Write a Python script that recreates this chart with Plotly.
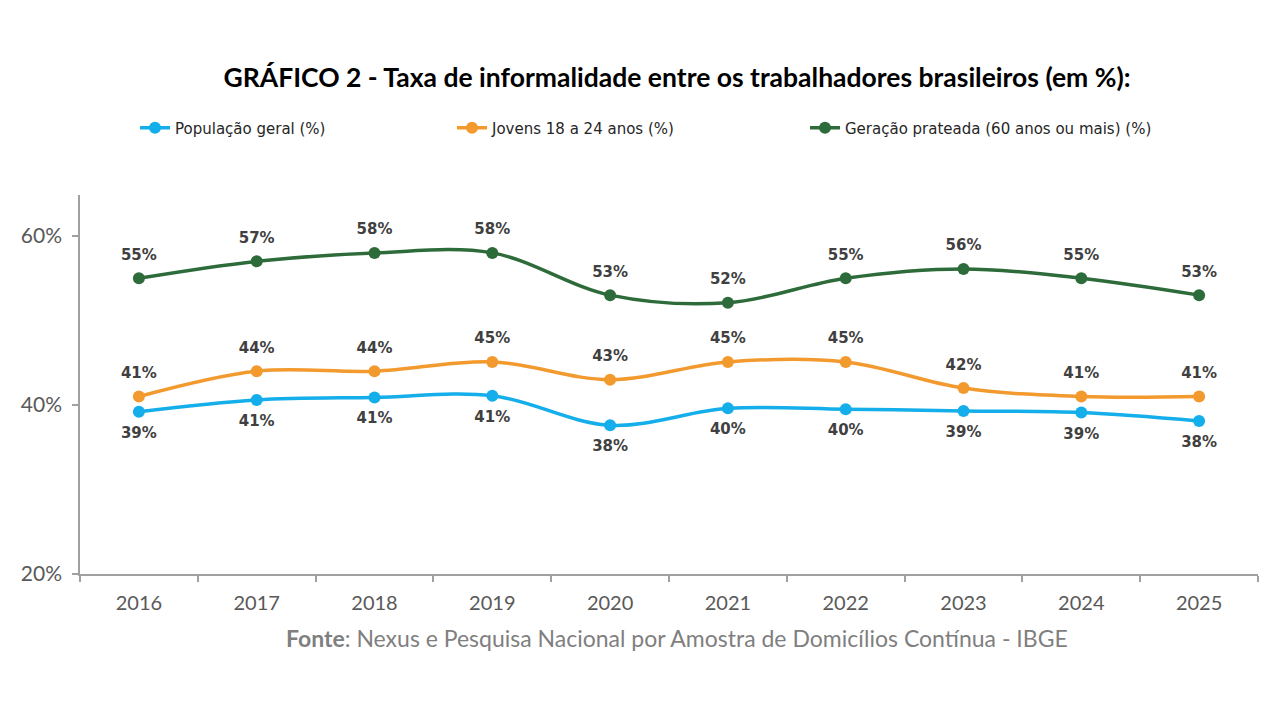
import plotly.graph_objects as go

years = ["2016", "2017", "2018", "2019", "2020", "2021", "2022", "2023", "2024", "2025"]
pop_geral = [39.2, 40.6, 40.9, 41.1, 37.6, 39.6, 39.5, 39.3, 39.1, 38.1]
jovens = [41.0, 44.0, 44.0, 45.1, 43.0, 45.1, 45.1, 42.0, 41.0, 41.0]
prateada = [55.0, 57.0, 58.0, 58.0, 53.0, 52.1, 55.0, 56.1, 55.0, 53.0]

series_names = ["População geral (%)", "Jovens 18 a 24 anos (%)", "Geração prateada (60 anos ou mais) (%)"]
colors = ["#14AEEA", "#F39A2E", "#2E6B3B"]
y_ticks = [20, 40, 60]
y_tick_text = ["20%", "40%", "60%"]

title_text = "GRÁFICO 2 - Taxa de informalidade entre os trabalhadores brasileiros (em %):"
source_text = "<b>Fonte</b>: Nexus e Pesquisa Nacional por Amostra de Domicílios Contínua - IBGE"

fig = go.Figure()
data = [pop_geral, jovens, prateada]
text_pos = ["bottom center", "top center", "top center"]
legends = ["legend", "legend2", "legend3"]
for vals, name, col, tp, lg in zip(data, series_names, colors, text_pos, legends):
    fig.add_trace(go.Scatter(
        x=years, y=vals, name=name, mode="lines+markers",
        line=dict(color=col, width=3.5, shape="spline", smoothing=1.0),
        marker=dict(color=col, size=12),
        cliponaxis=False,
        legend=lg,
    ))
    # data labels (invisible larger markers push labels away from the points)
    fig.add_trace(go.Scatter(
        x=years, y=vals, mode="markers+text", showlegend=False, hoverinfo="skip",
        marker=dict(color="rgba(0,0,0,0)", size=22),
        text=[f"{round(v)}%" for v in vals],
        textposition=tp,
        textfont=dict(family="DejaVu Sans", size=15, color="#404040", weight="bold"),
        cliponaxis=False,
    ))

leg_y = 1 + (195 - 128) / 379
leg_common = dict(orientation="h", yanchor="middle", xanchor="left",
                  font=dict(family="DejaVu Sans", size=15, color="#262626"),
                  bgcolor="rgba(0,0,0,0)", itemwidth=30, tracegroupgap=0)
fig.update_layout(
    width=1280, height=720,
    paper_bgcolor="white", plot_bgcolor="white",
    margin=dict(l=80, r=22, t=195, b=146),
    showlegend=True,
    legend=dict(x=(135 - 80) / 1178, y=leg_y, **leg_common),
    legend2=dict(x=(452 - 80) / 1178, y=leg_y, **leg_common),
    legend3=dict(x=(805 - 80) / 1178, y=leg_y, **leg_common),
    title=dict(text="<b>" + title_text + "</b>", x=677 / 1280, xanchor="center",
               y=1 - 78 / 720, yanchor="middle",
               font=dict(family="Lato", size=26.5, color="#000000")),
    xaxis=dict(type="category", range=[-0.5, 9.5], showline=True, linecolor="#A0A0A0",
               linewidth=1.5, ticks="outside", tickson="boundaries", ticklen=6,
               tickcolor="#A0A0A0", tickwidth=1.5, showgrid=False, zeroline=False,
               tickfont=dict(family="Lato", size=20, color="#595959"), ticklabelstandoff=10),
    yaxis=dict(range=[20, 64.85], tickvals=y_ticks, ticktext=y_tick_text, showline=True,
               linecolor="#A0A0A0", linewidth=1.5, ticks="outside", ticklen=6,
               tickcolor="#A0A0A0", tickwidth=1.5, showgrid=False, zeroline=False,
               tickfont=dict(family="Lato", size=21, color="#595959"), ticklabelstandoff=6),
    annotations=[dict(text=source_text, xref="paper", yref="paper",
                      x=(677 - 80) / 1178, y=-(638 - 574) / 379, xanchor="center", yanchor="middle",
                      showarrow=False, font=dict(family="Lato", size=23, color="#7F7F7F"))],
)

fig.write_html("out.html")
